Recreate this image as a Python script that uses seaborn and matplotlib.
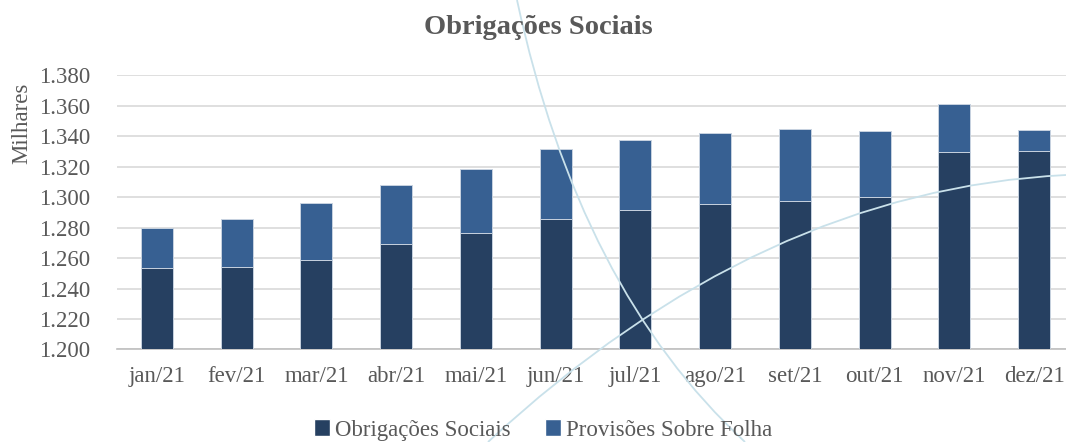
import numpy as np
import pandas as pd
import matplotlib
matplotlib.use('Agg')
import matplotlib.pyplot as plt
import seaborn as sns
from matplotlib.patches import Patch, PathPatch
from matplotlib.path import Path
from matplotlib.ticker import FuncFormatter

months = ['jan/21', 'fev/21', 'mar/21', 'abr/21', 'mai/21', 'jun/21',
          'jul/21', 'ago/21', 'set/21', 'out/21', 'nov/21', 'dez/21']
# values in thousands (Milhares)
obrigacoes = [1253.6, 1254.4, 1258.8, 1269.5, 1276.7, 1285.9,
              1291.8, 1295.5, 1297.7, 1299.9, 1329.6, 1330.3]
provisoes = [26.4, 31.1, 37.2, 38.5, 41.6, 45.5,
             46.1, 46.6, 47.2, 43.5, 31.5, 13.7]

DARK = '#264061'
LIGHT = '#376092'
GRAY_TXT = '#595959'
FONT = ['Liberation Serif', 'DejaVu Serif']

df = pd.DataFrame({'mes': months, 'obrig': obrigacoes, 'prov': provisoes})
df['total'] = df['obrig'] + df['prov']

sns.set_theme(style='white')
plt.rcParams['font.family'] = FONT

fig = plt.figure(figsize=(10.66, 4.42), dpi=100)

# decorative background arcs (pixel coords of the 1066x442 canvas)
def deco(p0, p1, p2):
    W, H = 1066, 442
    verts = [(p[0] / W, 1 - p[1] / H) for p in (p0, p1, p2)]
    path = Path(verts, [Path.MOVETO, Path.CURVE3, Path.CURVE3])
    fig.patches.append(PathPatch(path, transform=fig.transFigure, fill=False,
                                 edgecolor='#c9e1ea', lw=1.3, zorder=0))

deco((517, 0), (579, 289), (745, 442))
deco((488, 442), (760, 190), (1066, 175))

ax = fig.add_axes([117 / 1066, 0.2093, 957 / 1066, 0.620])
ax.patch.set_alpha(0)

sns.barplot(data=df, x='mes', y='total', color=LIGHT, width=0.4, saturation=1,
            edgecolor='#c8d3e0', linewidth=0.7, ax=ax, zorder=3)
sns.barplot(data=df, x='mes', y='obrig', color=DARK, width=0.4, saturation=1,
            edgecolor='#c8d3e0', linewidth=0.7, ax=ax, zorder=3)

ax.set_ylim(1200, 1380)
ax.set_xlim(-0.5, 11.5)
ax.set_yticks(np.arange(1200, 1381, 20))
ax.yaxis.set_major_formatter(FuncFormatter(lambda v, p: f'{v / 1000:.3f}'))
ax.grid(axis='y', color='#d9d9d9', lw=1.2, zorder=0)
ax.set_axisbelow(True)
for s in ['left', 'right', 'top']:
    ax.spines[s].set_visible(False)
ax.spines['bottom'].set_color('#bfbfbf')
ax.spines['bottom'].set_linewidth(1.2)
ax.set_xticks(np.arange(-0.5, 12, 1), minor=True)
ax.tick_params(axis='x', which='minor', length=6, width=1.2, color='#bfbfbf', direction='out')
ax.tick_params(axis='x', which='major', length=0, pad=12, labelsize=16.5, labelcolor=GRAY_TXT)
ax.tick_params(axis='y', length=0, pad=19, labelsize=16.5, labelcolor=GRAY_TXT)
ax.set_xlabel('')
ax.set_ylabel('')

fig.text(22 / 1066, 1 - 123 / 442, 'Milhares', rotation=90, ha='center', va='center',
         fontsize=16.5, color=GRAY_TXT)
fig.text(538 / 1066, 1 - 27 / 442, 'Obrigações Sociais', ha='center', va='center',
         fontsize=20.5, fontweight='bold', color=GRAY_TXT)

handles = [Patch(facecolor=DARK, label='Obrigações Sociais'),
           Patch(facecolor=LIGHT, label='Provisões Sobre Folha')]
leg = fig.legend(handles=handles, loc='center', bbox_to_anchor=(543 / 1066, 1 - 430 / 442),
                 ncol=2, frameon=False, fontsize=16.5, labelcolor=GRAY_TXT,
                 handlelength=0.7, handleheight=0.7, handletextpad=0.2, columnspacing=1.5)
for t in leg.get_texts():
    t.set_fontfamily(FONT)

fig.savefig('out.png', dpi=100)
